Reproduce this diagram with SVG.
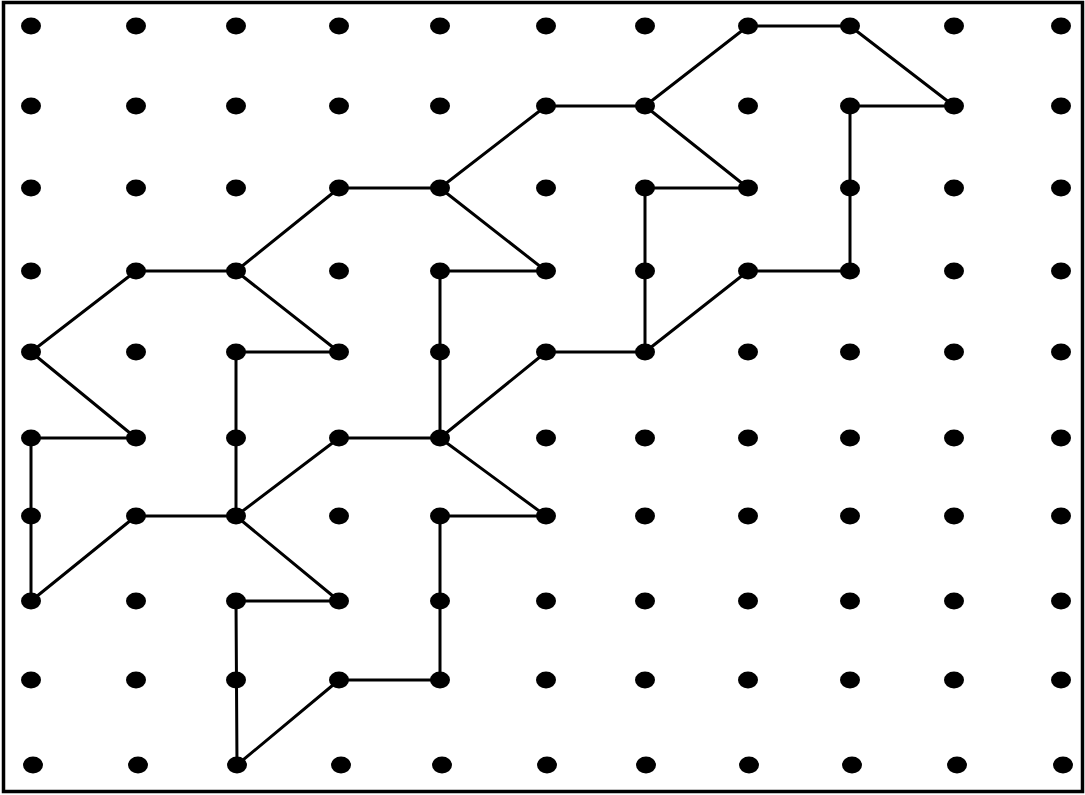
<svg xmlns="http://www.w3.org/2000/svg" width="1085" height="795" viewBox="0 0 1085 795">
<style>
.d{fill:#000}
.e{stroke:#000;stroke-width:3;fill:none;stroke-linecap:round}
</style>
<defs><ellipse id="dot" cx="0" cy="0" rx="10" ry="8.5" class="d"/></defs>
<rect x="0" y="0" width="1085" height="795" fill="#fff"/>
<rect x="3.5" y="2.5" width="1079" height="789" fill="none" stroke="#000" stroke-width="3.5"/>
<g id="connectors" class="e">
<line x1="748" y1="26" x2="850" y2="26"/>
<line x1="850" y1="26" x2="954" y2="106"/>
<line x1="954" y1="106" x2="850" y2="106"/>
<line x1="850" y1="106" x2="850" y2="271"/>
<line x1="850" y1="271" x2="748" y2="271"/>
<line x1="748" y1="271" x2="645" y2="352"/>
<line x1="645" y1="352" x2="645" y2="188"/>
<line x1="645" y1="188" x2="748" y2="188"/>
<line x1="748" y1="188" x2="645" y2="106"/>
<line x1="645" y1="106" x2="748" y2="26"/>
<line x1="645" y1="106" x2="546" y2="106"/>
<line x1="546" y1="106" x2="440" y2="188"/>
<line x1="440" y1="188" x2="339" y2="188"/>
<line x1="440" y1="188" x2="546" y2="271"/>
<line x1="546" y1="271" x2="440" y2="271"/>
<line x1="440" y1="271" x2="440" y2="438"/>
<line x1="645" y1="352" x2="546" y2="352"/>
<line x1="546" y1="352" x2="440" y2="438"/>
<line x1="440" y1="438" x2="339" y2="438"/>
<line x1="440" y1="438" x2="546" y2="516"/>
<line x1="546" y1="516" x2="440" y2="516"/>
<line x1="440" y1="516" x2="440" y2="680"/>
<line x1="440" y1="680" x2="339" y2="680"/>
<line x1="339" y1="680" x2="237" y2="765"/>
<line x1="237" y1="765" x2="236" y2="601"/>
<line x1="236" y1="601" x2="339" y2="601"/>
<line x1="339" y1="601" x2="236" y2="516"/>
<line x1="339" y1="438" x2="236" y2="516"/>
<line x1="236" y1="516" x2="236" y2="352"/>
<line x1="236" y1="352" x2="339" y2="352"/>
<line x1="339" y1="352" x2="236" y2="271"/>
<line x1="339" y1="188" x2="236" y2="271"/>
<line x1="236" y1="271" x2="136" y2="271"/>
<line x1="136" y1="271" x2="31" y2="352"/>
<line x1="31" y1="352" x2="136" y2="438"/>
<line x1="136" y1="438" x2="31" y2="438"/>
<line x1="31" y1="438" x2="31" y2="601"/>
<line x1="31" y1="601" x2="136" y2="516"/>
<line x1="136" y1="516" x2="236" y2="516"/>
</g>
<g id="nodes">
<g id="n0-0"><use href="#dot" x="31" y="26"/></g><g id="n1-0"><use href="#dot" x="136" y="26"/></g><g id="n2-0"><use href="#dot" x="236" y="26"/></g><g id="n3-0"><use href="#dot" x="339" y="26"/></g><g id="n4-0"><use href="#dot" x="440" y="26"/></g><g id="n5-0"><use href="#dot" x="546" y="26"/></g><g id="n6-0"><use href="#dot" x="645" y="26"/></g><g id="n7-0"><use href="#dot" x="748" y="26"/></g><g id="n8-0"><use href="#dot" x="850" y="26"/></g><g id="n9-0"><use href="#dot" x="954" y="26"/></g><g id="n10-0"><use href="#dot" x="1061" y="26"/></g>
<g id="n0-1"><use href="#dot" x="31" y="106"/></g><g id="n1-1"><use href="#dot" x="136" y="106"/></g><g id="n2-1"><use href="#dot" x="236" y="106"/></g><g id="n3-1"><use href="#dot" x="339" y="106"/></g><g id="n4-1"><use href="#dot" x="440" y="106"/></g><g id="n5-1"><use href="#dot" x="546" y="106"/></g><g id="n6-1"><use href="#dot" x="645" y="106"/></g><g id="n7-1"><use href="#dot" x="748" y="106"/></g><g id="n8-1"><use href="#dot" x="850" y="106"/></g><g id="n9-1"><use href="#dot" x="954" y="106"/></g><g id="n10-1"><use href="#dot" x="1061" y="106"/></g>
<g id="n0-2"><use href="#dot" x="31" y="188"/></g><g id="n1-2"><use href="#dot" x="136" y="188"/></g><g id="n2-2"><use href="#dot" x="236" y="188"/></g><g id="n3-2"><use href="#dot" x="339" y="188"/></g><g id="n4-2"><use href="#dot" x="440" y="188"/></g><g id="n5-2"><use href="#dot" x="546" y="188"/></g><g id="n6-2"><use href="#dot" x="645" y="188"/></g><g id="n7-2"><use href="#dot" x="748" y="188"/></g><g id="n8-2"><use href="#dot" x="850" y="188"/></g><g id="n9-2"><use href="#dot" x="954" y="188"/></g><g id="n10-2"><use href="#dot" x="1061" y="188"/></g>
<g id="n0-3"><use href="#dot" x="31" y="271"/></g><g id="n1-3"><use href="#dot" x="136" y="271"/></g><g id="n2-3"><use href="#dot" x="236" y="271"/></g><g id="n3-3"><use href="#dot" x="339" y="271"/></g><g id="n4-3"><use href="#dot" x="440" y="271"/></g><g id="n5-3"><use href="#dot" x="546" y="271"/></g><g id="n6-3"><use href="#dot" x="645" y="271"/></g><g id="n7-3"><use href="#dot" x="748" y="271"/></g><g id="n8-3"><use href="#dot" x="850" y="271"/></g><g id="n9-3"><use href="#dot" x="954" y="271"/></g><g id="n10-3"><use href="#dot" x="1061" y="271"/></g>
<g id="n0-4"><use href="#dot" x="31" y="352"/></g><g id="n1-4"><use href="#dot" x="136" y="352"/></g><g id="n2-4"><use href="#dot" x="236" y="352"/></g><g id="n3-4"><use href="#dot" x="339" y="352"/></g><g id="n4-4"><use href="#dot" x="440" y="352"/></g><g id="n5-4"><use href="#dot" x="546" y="352"/></g><g id="n6-4"><use href="#dot" x="645" y="352"/></g><g id="n7-4"><use href="#dot" x="748" y="352"/></g><g id="n8-4"><use href="#dot" x="850" y="352"/></g><g id="n9-4"><use href="#dot" x="954" y="352"/></g><g id="n10-4"><use href="#dot" x="1061" y="352"/></g>
<g id="n0-5"><use href="#dot" x="31" y="438"/></g><g id="n1-5"><use href="#dot" x="136" y="438"/></g><g id="n2-5"><use href="#dot" x="236" y="438"/></g><g id="n3-5"><use href="#dot" x="339" y="438"/></g><g id="n4-5"><use href="#dot" x="440" y="438"/></g><g id="n5-5"><use href="#dot" x="546" y="438"/></g><g id="n6-5"><use href="#dot" x="645" y="438"/></g><g id="n7-5"><use href="#dot" x="748" y="438"/></g><g id="n8-5"><use href="#dot" x="850" y="438"/></g><g id="n9-5"><use href="#dot" x="954" y="438"/></g><g id="n10-5"><use href="#dot" x="1061" y="438"/></g>
<g id="n0-6"><use href="#dot" x="31" y="516"/></g><g id="n1-6"><use href="#dot" x="136" y="516"/></g><g id="n2-6"><use href="#dot" x="236" y="516"/></g><g id="n3-6"><use href="#dot" x="339" y="516"/></g><g id="n4-6"><use href="#dot" x="440" y="516"/></g><g id="n5-6"><use href="#dot" x="546" y="516"/></g><g id="n6-6"><use href="#dot" x="645" y="516"/></g><g id="n7-6"><use href="#dot" x="748" y="516"/></g><g id="n8-6"><use href="#dot" x="850" y="516"/></g><g id="n9-6"><use href="#dot" x="954" y="516"/></g><g id="n10-6"><use href="#dot" x="1061" y="516"/></g>
<g id="n0-7"><use href="#dot" x="31" y="601"/></g><g id="n1-7"><use href="#dot" x="136" y="601"/></g><g id="n2-7"><use href="#dot" x="236" y="601"/></g><g id="n3-7"><use href="#dot" x="339" y="601"/></g><g id="n4-7"><use href="#dot" x="440" y="601"/></g><g id="n5-7"><use href="#dot" x="546" y="601"/></g><g id="n6-7"><use href="#dot" x="645" y="601"/></g><g id="n7-7"><use href="#dot" x="748" y="601"/></g><g id="n8-7"><use href="#dot" x="850" y="601"/></g><g id="n9-7"><use href="#dot" x="954" y="601"/></g><g id="n10-7"><use href="#dot" x="1061" y="601"/></g>
<g id="n0-8"><use href="#dot" x="31" y="680"/></g><g id="n1-8"><use href="#dot" x="136" y="680"/></g><g id="n2-8"><use href="#dot" x="236" y="680"/></g><g id="n3-8"><use href="#dot" x="339" y="680"/></g><g id="n4-8"><use href="#dot" x="440" y="680"/></g><g id="n5-8"><use href="#dot" x="546" y="680"/></g><g id="n6-8"><use href="#dot" x="645" y="680"/></g><g id="n7-8"><use href="#dot" x="748" y="680"/></g><g id="n8-8"><use href="#dot" x="850" y="680"/></g><g id="n9-8"><use href="#dot" x="954" y="680"/></g><g id="n10-8"><use href="#dot" x="1061" y="680"/></g>
<g id="n0-9"><use href="#dot" x="33" y="765"/></g><g id="n1-9"><use href="#dot" x="138" y="765"/></g><g id="n2-9"><use href="#dot" x="237" y="765"/></g><g id="n3-9"><use href="#dot" x="341" y="765"/></g><g id="n4-9"><use href="#dot" x="442" y="765"/></g><g id="n5-9"><use href="#dot" x="547" y="765"/></g><g id="n6-9"><use href="#dot" x="646" y="765"/></g><g id="n7-9"><use href="#dot" x="749" y="765"/></g><g id="n8-9"><use href="#dot" x="852" y="765"/></g><g id="n9-9"><use href="#dot" x="957" y="765"/></g><g id="n10-9"><use href="#dot" x="1063" y="765"/></g>
</g>
</svg>
